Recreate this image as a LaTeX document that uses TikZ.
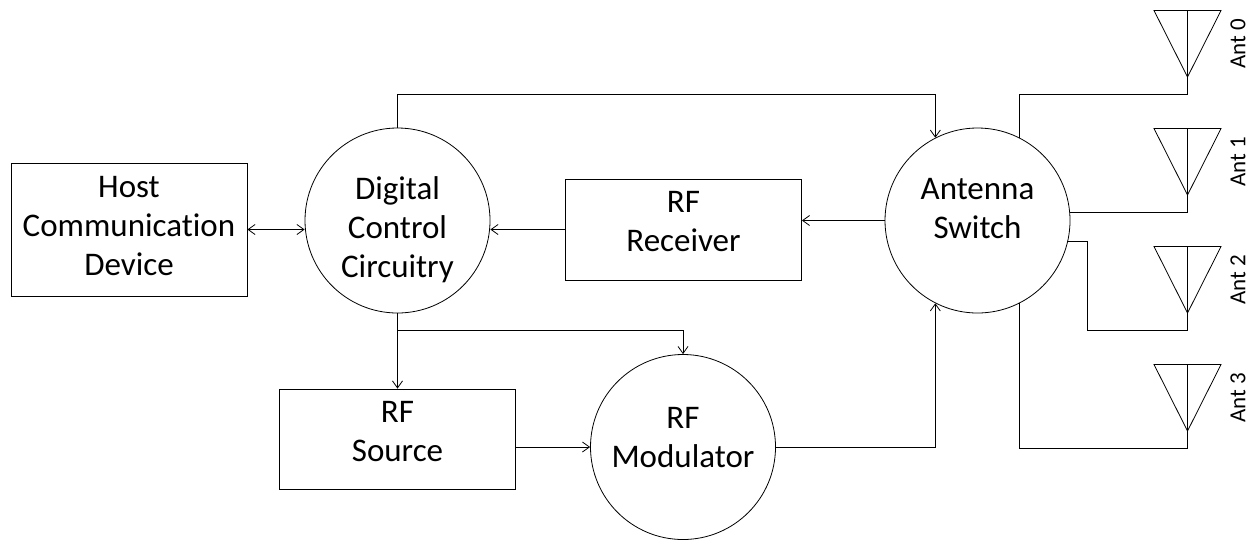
\documentclass[tikz,border=0pt]{standalone}
\usepackage{fontspec}
\setmainfont{Carlito}[Ligatures=CommonOff]
\usepackage{tikz}
\usetikzlibrary{arrows.meta}

\tikzset{
  block/.style={draw, rectangle, align=center, inner sep=0pt, minimum width=118pt},
  round/.style={draw, circle, minimum size=92.5pt, inner sep=0pt},
  txt/.style={align=center},
  antlabel/.style={rotate=90, font=\fontsize{11.5}{13}\selectfont}
}

\begin{document}
\begin{tikzpicture}[x=0.5pt, y=-0.5pt, font=\fontsize{16.5}{19.5}\selectfont,
    >={Straight Barb[length=3.5pt,width=5pt]}]
  \useasboundingbox (0,0) rectangle (1256,542);

  \node (host) at (129,229.5)   [block, minimum height=66.5pt] {};
  \node (rx)   at (683.5,229.5) [block, minimum height=50.5pt] {};
  \node (src)  at (397.5,439)   [block, minimum height=50pt]   {};
  \node (hosttext) at (129,226)   [txt] {Host\\Communication\\Device};
  \node (rxtext)   at (683.5,222) [txt] {RF\\Receiver};
  \node (srctext)  at (397.5,432) [txt] {RF\\Source};

  \node (dcc) at (397.5,220.5) [round] {};
  \node (sw)  at (977.5,220.5) [round] {};
  \node (mod) at (683,447)     [round] {};
  \node (dcctext) at (397.5,230)  [txt] {Digital\\Control\\Circuitry};
  \node (swtext)  at (977.5,209)  [txt] {Antenna\\Switch};
  \node (modtext) at (683,437.5)  [txt] {RF\\Modulator};

  \coordinate (split) at (397.5,330);

  \draw[<->] (host.east) -- (host.east -| dcc.west);
  \draw[->]  (rx.west) -- (rx.west -| dcc.east);
  \draw[->]  (sw.west) -- (sw.west -| rx.east);
  \draw[->]  (dcc.north) -- ++(0,-33) -| (sw.117);
  \draw[->]  (dcc.south) -- (src.north);
  \draw[->]  (split) -| (mod.north);
  \draw[->]  (src.east |- mod.west) -- (mod.west);
  \draw[->]  (mod.east) -| (sw.243);

  % antennas
  \foreach \i in {0,...,3} {
    \coordinate (a\i) at (1187.5,94.5+118*\i);
    \draw (1154,10.5+118*\i) -- (1221,10.5+118*\i) -- (1187.5,77+118*\i) -- cycle;
    \draw (1187.5,10.5+118*\i) -- (a\i);
    \node (ant\i) at (1238,43.5+118*\i) [antlabel] {Ant \i};
  }

  \draw (sw.63) |- (a0);
  \draw (sw.5) -| (a1);
  \draw (sw.-13) -- ++(19.5,0) |- (a2);
  \draw (sw.-63) |- (a3);
\end{tikzpicture}
\end{document}
